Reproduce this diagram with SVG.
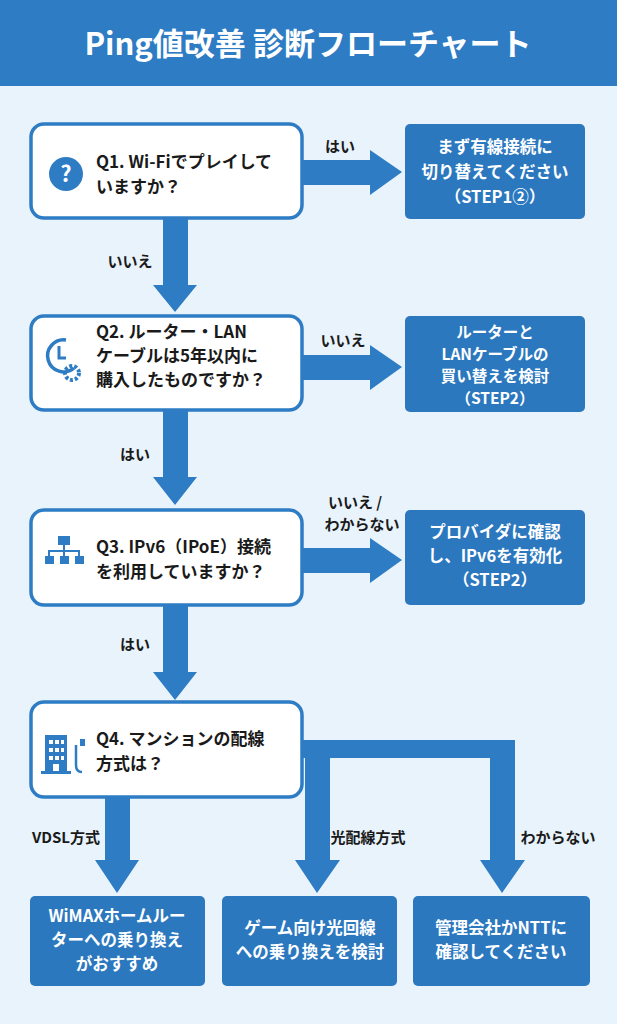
<svg xmlns="http://www.w3.org/2000/svg" width="617" height="1024" viewBox="0 0 617 1024">
<style>
text{font-family:"Noto Sans CJK JP","Noto Sans",sans-serif;font-weight:bold}
.q{fill:#fff;stroke:#2e7cc4;stroke-width:3.5}
.r{fill:#2b78bf}
.qt{font-size:17px;fill:#1a1a1a}
.rt{font-size:16.5px;fill:#fff;text-anchor:middle}
.lb{font-size:15px;fill:#1a1a1a;text-anchor:middle}
.ar{fill:#2e7cc4}
</style>
<rect width="617" height="1024" fill="#e9f3fc"/>
<rect width="617" height="86" fill="#2e7cc4"/>
<text x="308" y="55" font-size="31" fill="#fff" text-anchor="middle">Ping値改善 診断フローチャート</text>
<g id="connectors" class="ar">
<path d="M302 160H370V150L402 172L370 195V185H302Z"/>
<path d="M163 218H188V285H197L175 312L153 285H163Z"/>
<path d="M302 355H370V345L402 367L370 390V380H302Z"/>
<path d="M163 410H188V477H197L175 505L153 477H163Z"/>
<path d="M302 548H370V538L402 560L370 583V573H302Z"/>
<path d="M163 605H188V672H197L175 700L153 672H163Z"/>
<path d="M105 797H130V860H139L117 893L95 860H105Z"/>
<path d="M302 740H515V860H525L502 893L480 860H490V758H330V860H340L317 893L295 860H305V758H302Z"/>
</g>
<g class="lb">
<text x="340" y="152">はい</text>
<text x="130" y="267">いいえ</text>
<text x="343" y="346">いいえ</text>
<text x="135" y="460">はい</text>
<text x="355" y="508">いいえ /</text>
<text x="362" y="530">わからない</text>
<text x="135" y="650">はい</text>
<text x="66" y="843">VDSL方式</text>
<text x="368" y="843">光配線方式</text>
<text x="558" y="843">わからない</text>
</g>
<g id="q1"><rect class="q" x="31" y="124" width="271" height="94" rx="13"/>
<circle cx="66" cy="174" r="17" fill="#2e7cc4"/><text x="66" y="182" font-size="22" fill="#fff" text-anchor="middle">?</text>
<text class="qt" x="96" y="168">Q1. Wi-Fiでプレイして</text><text class="qt" x="96" y="193">いますか？</text></g>
<g id="r1"><rect class="r" x="405" y="124" width="180" height="95" rx="5"/>
<text class="rt" x="495" y="153">まず有線接続に</text><text class="rt" x="495" y="178">切り替えてください</text><text class="rt" x="495" y="203">（STEP1②）</text></g>
<g id="q2"><rect class="q" x="31" y="316" width="271" height="94" rx="13"/>
<path d="M74 368A16 16 0 1 1 66 340" fill="none" stroke="#2e7cc4" stroke-width="3.5"/><path d="M59 346V358H66" fill="none" stroke="#2e7cc4" stroke-width="3"/>
<circle cx="72" cy="373" r="7" fill="none" stroke="#2e7cc4" stroke-width="4" stroke-dasharray="3 2"/>
<text class="qt" x="96" y="338">Q2. ルーター・LAN</text><text class="qt" x="96" y="362">ケーブルは5年以内に</text><text class="qt" x="96" y="386">購入したものですか？</text></g>
<g id="r2"><rect class="r" x="405" y="316" width="180" height="96" rx="5"/>
<g style="font-size:15.5px"><text class="rt" x="495" y="338" style="font-size:15.5px">ルーターと</text><text class="rt" x="495" y="360" style="font-size:15.5px">LANケーブルの</text><text class="rt" x="495" y="382" style="font-size:15.5px">買い替えを検討</text><text class="rt" x="495" y="404" style="font-size:15.5px">（STEP2）</text></g></g>
<g id="q3"><rect class="q" x="31" y="510" width="271" height="95" rx="13"/>
<g fill="#2e7cc4"><rect x="58" y="536" width="12" height="9"/><rect x="63" y="545" width="2" height="6"/><rect x="48" y="550" width="32" height="2"/><rect x="48" y="550" width="2" height="6"/><rect x="63" y="550" width="2" height="6"/><rect x="78" y="550" width="2" height="6"/><rect x="45" y="556" width="9" height="8"/><rect x="60" y="556" width="9" height="8"/><rect x="75" y="556" width="9" height="8"/></g>
<text class="qt" x="96" y="553">Q3. IPv6（IPoE）接続</text><text class="qt" x="96" y="578">を利用していますか？</text></g>
<g id="r3"><rect class="r" x="405" y="510" width="180" height="95" rx="5"/>
<text class="rt" x="495" y="538">プロバイダに確認</text><text class="rt" x="495" y="562">し、IPv6を有効化</text><text class="rt" x="495" y="586">（STEP2）</text></g>
<g id="q4"><rect class="q" x="31" y="702" width="271" height="95" rx="13"/>
<g fill="#2e7cc4"><rect x="45" y="735" width="22" height="38"/><rect x="41" y="771" width="30" height="3"/><path d="M76 745V765Q76 772 82 772" fill="none" stroke="#2e7cc4" stroke-width="2.5"/><rect x="80" y="739" width="5" height="7"/></g>
<g fill="#fff"><rect x="49" y="740" width="4" height="4"/><rect x="55" y="740" width="4" height="4"/><rect x="61" y="740" width="3" height="4"/><rect x="49" y="748" width="4" height="4"/><rect x="55" y="748" width="4" height="4"/><rect x="61" y="748" width="3" height="4"/><rect x="49" y="756" width="4" height="4"/><rect x="55" y="756" width="4" height="4"/><rect x="61" y="756" width="3" height="4"/><rect x="53" y="764" width="6" height="7"/></g>
<text class="qt" x="96" y="745">Q4. マンションの配線</text><text class="qt" x="96" y="770">方式は？</text></g>
<g id="r4"><rect class="r" x="30" y="896" width="175" height="90" rx="5"/>
<text class="rt" x="117" y="922">WiMAXホームルー</text><text class="rt" x="117" y="946">ターへの乗り換え</text><text class="rt" x="117" y="970">がおすすめ</text></g>
<g id="r5"><rect class="r" x="222" y="896" width="175" height="90" rx="5"/>
<text class="rt" x="310" y="934">ゲーム向け光回線</text><text class="rt" x="310" y="958">への乗り換えを検討</text></g>
<g id="r6"><rect class="r" x="413" y="896" width="177" height="90" rx="5"/>
<text class="rt" x="501" y="934">管理会社かNTTに</text><text class="rt" x="501" y="958">確認してください</text></g>
</svg>
